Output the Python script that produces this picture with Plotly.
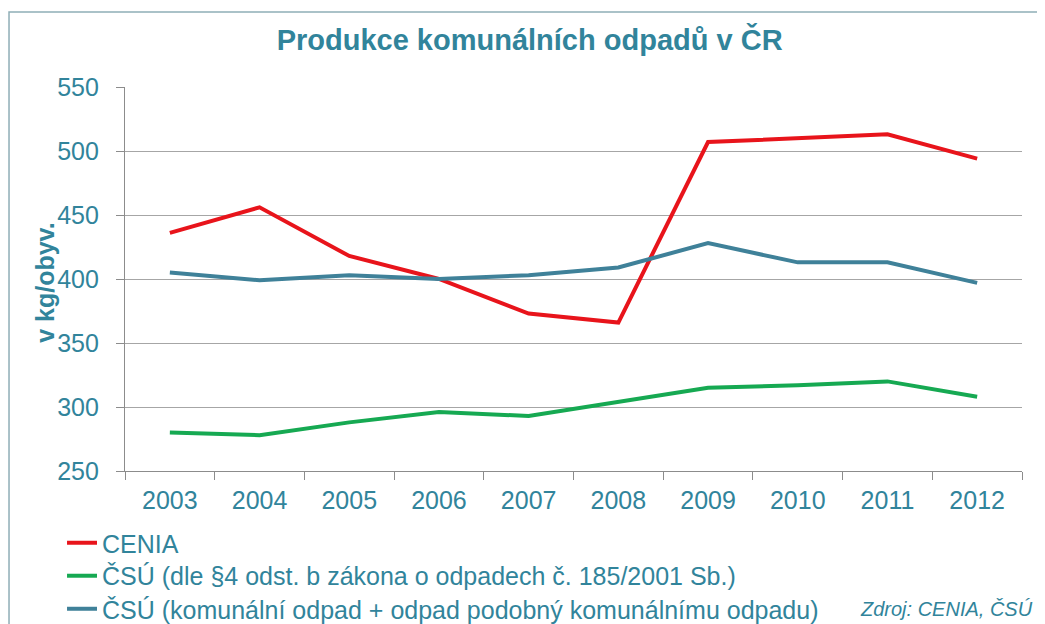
import plotly.graph_objects as go

years = ["2003", "2004", "2005", "2006", "2007", "2008", "2009", "2010", "2011", "2012"]
cenia = [436, 456, 418, 400, 373, 366, 507, 510, 513, 494]
csu_zakon = [280, 278, 288, 296, 293, 304, 315, 317, 320, 308]
csu_komunalni = [405, 399, 403, 400, 403, 409, 428, 413, 413, 397]

names = [
    "CENIA",
    "ČSÚ (dle §4 odst. b zákona o odpadech č. 185/2001 Sb.)",
    "ČSÚ (komunální odpad + odpad podobný komunálnímu odpadu)",
]
colors = ["#E8141B", "#16A952", "#3F8199"]
legend_ids = ["legend", "legend2", "legend3"]
legend_y = [-0.1875, -0.2734, -0.3594]
teal = "#31849B"
font_family = "Liberation Sans, Arial, sans-serif"

fig = go.Figure()
for name, vals, col, lg in zip(names, [cenia, csu_zakon, csu_komunalni], colors, legend_ids):
    fig.add_trace(go.Scatter(x=years, y=vals, name=name, mode="lines",
                             line=dict(color=col, width=4), legend=lg))

legend_common = dict(x=-0.0702, xanchor="left", yanchor="middle", orientation="v",
                     font=dict(size=25, color=teal, family=font_family),
                     bgcolor="rgba(0,0,0,0)", itemwidth=30)

fig.update_layout(
    width=1037, height=616,
    margin=dict(l=117, r=23, t=79, b=153, autoexpand=False),
    paper_bgcolor="white", plot_bgcolor="white",
    font=dict(family=font_family, color=teal, size=25),
    title=dict(text="<b>Produkce komunálních odpadů v ČR</b>",
               x=0.503, xanchor="center", y=0.948, yanchor="middle",
               font=dict(size=29, color=teal, family=font_family)),
    showlegend=True,
    legend=dict(y=legend_y[0], **legend_common),
    legend2=dict(y=legend_y[1], **legend_common),
    legend3=dict(y=legend_y[2], **legend_common),
)
fig.update_xaxes(type="category", range=[-0.5, 9.5], showgrid=False, showline=True,
                 linecolor="#8C8C8C", linewidth=1.2, ticks="outside", tickson="boundaries",
                 ticklen=8, tickcolor="#8C8C8C", tickfont=dict(size=25, color=teal),
                 ticklabelstandoff=7)
fig.update_yaxes(range=[250, 550], tickvals=[250, 300, 350, 400, 450, 500, 550],
                 showgrid=True, gridcolor="#A6A6A6", gridwidth=1.2,
                 showline=True, linecolor="#8C8C8C", linewidth=1.2,
                 ticks="outside", ticklen=8, tickcolor="#8C8C8C",
                 tickfont=dict(size=25, color=teal), ticklabelstandoff=12,
                 zeroline=False)

fig.add_annotation(text="<b>v kg/obyv.</b>", textangle=-90, xref="paper", yref="paper",
                   x=-0.0892, y=0.49, xanchor="center", yanchor="middle", showarrow=False,
                   font=dict(size=25, color=teal))
fig.add_annotation(text="<i>Zdroj: CENIA, ČSÚ</i>", xref="paper", yref="paper",
                   x=1.0145, y=-0.3594, xanchor="right", yanchor="middle", showarrow=False,
                   font=dict(size=20, color=teal))
fig.add_shape(type="rect", xref="paper", yref="paper",
              x0=-0.1293, x1=1.0201, y0=-0.45, y1=1.1953,
              line=dict(color="#8FAEB6", width=1.5), fillcolor="rgba(0,0,0,0)", layer="below")

fig.write_html("out.html")
